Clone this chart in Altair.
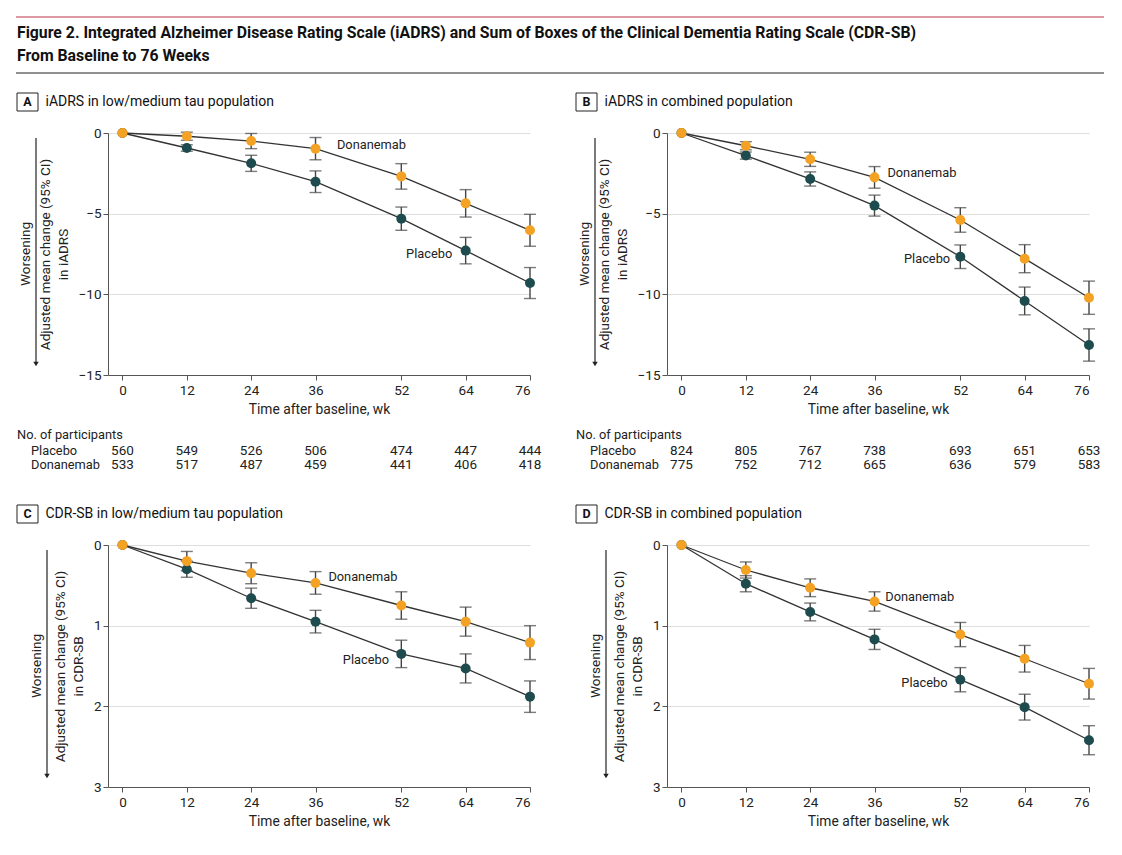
import altair as alt
import pandas as pd

FONT = "Roboto"
ORANGE = "#F4A223"
TEAL = "#1E4B4D"
LINE = "#333333"

weeks = [0, 12, 24, 36, 52, 64, 76]

# Panel A: iADRS low/medium tau
a_dona = [0, -0.20, -0.50, -0.97, -2.69, -4.36, -6.03]
a_dona_ci = [0, 0.25, 0.47, 0.69, 0.79, 0.85, 0.99]
a_plac = [0, -0.93, -1.88, -3.02, -5.31, -7.29, -9.30]
a_plac_ci = [0, 0.20, 0.50, 0.67, 0.72, 0.82, 0.96]

# Panel B: iADRS combined
b_dona = [0, -0.79, -1.63, -2.75, -5.39, -7.79, -10.21]
b_dona_ci = [0, 0.25, 0.44, 0.67, 0.76, 0.87, 1.03]
b_plac = [0, -1.40, -2.85, -4.50, -7.67, -10.41, -13.14]
b_plac_ci = [0, 0.22, 0.44, 0.65, 0.73, 0.86, 1.00]

# Panel C: CDR-SB low/medium tau
c_dona = [0, 0.20, 0.35, 0.47, 0.75, 0.95, 1.21]
c_dona_ci = [0, 0.12, 0.13, 0.14, 0.17, 0.18, 0.21]
c_plac = [0, 0.30, 0.66, 0.95, 1.35, 1.53, 1.88]
c_plac_ci = [0, 0.10, 0.125, 0.14, 0.17, 0.18, 0.195]

# Panel D: CDR-SB combined
d_dona = [0, 0.31, 0.53, 0.70, 1.11, 1.41, 1.72]
d_dona_ci = [0, 0.10, 0.11, 0.12, 0.15, 0.165, 0.19]
d_plac = [0, 0.48, 0.83, 1.17, 1.67, 2.01, 2.42]
d_plac_ci = [0, 0.10, 0.11, 0.125, 0.15, 0.16, 0.18]

# Participants
a_n_plac = [560, 549, 526, 506, 474, 447, 444]
a_n_dona = [533, 517, 487, 459, 441, 406, 418]
b_n_plac = [824, 805, 767, 738, 693, 651, 653]
b_n_dona = [775, 752, 712, 665, 636, 579, 583]

# Series label anchors (week, value)
a_labels = [(40.0, -0.74), (61.5, -7.53)]
b_labels = [(38.4, -2.5), (50.1, -7.83)]
c_labels = [(38.4, 0.395), (49.7, 1.42)]
d_labels = [(38.0, 0.64), (49.6, 1.71)]

title_lines = [
    "Figure 2. Integrated Alzheimer Disease Rating Scale (iADRS) and Sum of Boxes of the Clinical Dementia Rating Scale (CDR-SB)",
    "From Baseline to 76 Weeks",
]

W = 422
H = 242
one = pd.DataFrame({"k": [0]})


def txt(s, x, y, size=13, align="left", weight="normal", angle=0, color="#222"):
    return alt.Chart(one).mark_text(align=align, baseline="middle", fontSize=size,
                                    fontWeight=weight, color=color, font=FONT,
                                    angle=angle).encode(
        x=alt.value(x), y=alt.value(y), text=alt.value(s))


def panel(letter, label, dmean, dci, pmean, pci, ydom, yvals, reverse, ytitle,
          labels, counts=None, header=False, arrow_x=-72, worse_x=-82):
    rows = []
    for w, m, c in zip(weeks, dmean, dci):
        rows.append(dict(week=w, group="Donanemab", mean=m, lo=m - c, hi=m + c))
    for w, m, c in zip(weeks, pmean, pci):
        rows.append(dict(week=w, group="Placebo", mean=m, lo=m - c, hi=m + c))
    df = pd.DataFrame(rows)
    ci = df[df.week > 0]

    xs = alt.Scale(domain=[-2.7, 76], nice=False, zero=False, padding=0)
    ys = alt.Scale(domain=ydom, nice=False, zero=False, reverse=reverse, padding=0)
    x = alt.X("week:Q", scale=xs,
              axis=alt.Axis(values=weeks, title="Time after baseline, wk", grid=False,
                            labelFontSize=13.5, titleFontSize=13.8, titleFontWeight="normal",
                            tickSize=5, labelPadding=3, titlePadding=6, format="d",
                            domainColor="#555", tickColor="#555",
                            labelColor="#222", titleColor="#222"))
    y = alt.Y("mean:Q", scale=ys,
              axis=alt.Axis(values=yvals, title=ytitle, grid=True, gridColor="#dedede",
                            labelFontSize=13.5, titleFontSize=13.5, titleFontWeight="normal",
                            tickSize=5, labelPadding=2, titlePadding=8, format="d",
                            titleLineHeight=18,
                            domainColor="#555", tickColor="#555",
                            labelColor="#222", titleColor="#222"))
    xw = alt.X("week:Q", scale=xs)

    lines = alt.Chart(df).mark_line(color=LINE, strokeWidth=1.3).encode(
        x=x, y=y, detail="group:N")
    bars = alt.Chart(ci).mark_rule(color="#444", strokeWidth=1.4).encode(
        x=xw, y=alt.Y("lo:Q", scale=ys), y2="hi:Q")
    cap_lo = alt.Chart(ci).mark_tick(color="#444", orient="horizontal", size=12,
                                     thickness=1.4).encode(x=xw, y=alt.Y("lo:Q", scale=ys))
    cap_hi = alt.Chart(ci).mark_tick(color="#444", orient="horizontal", size=12,
                                     thickness=1.4).encode(x=xw, y=alt.Y("hi:Q", scale=ys))
    pts = alt.Chart(df).mark_circle(size=100, opacity=1).encode(
        x=xw, y=alt.Y("mean:Q", scale=ys),
        color=alt.Color("group:N",
                        scale=alt.Scale(domain=["Placebo", "Donanemab"], range=[TEAL, ORANGE]),
                        legend=None),
        order=alt.Order("group:N", sort="descending"))

    lab_d = pd.DataFrame({"week": [labels[0][0]], "mean": [labels[0][1]], "t": ["Donanemab"]})
    lab_p = pd.DataFrame({"week": [labels[1][0]], "mean": [labels[1][1]], "t": ["Placebo"]})
    tdona = alt.Chart(lab_d).mark_text(align="left", baseline="middle", fontSize=12.8,
                                       color="#222", font=FONT).encode(
        x=xw, y=alt.Y("mean:Q", scale=ys), text="t:N")
    tplac = alt.Chart(lab_p).mark_text(align="right", baseline="middle", fontSize=12.8,
                                       color="#222", font=FONT).encode(
        x=xw, y=alt.Y("mean:Q", scale=ys), text="t:N")

    box = alt.Chart(one).mark_rect(fill="white", fillOpacity=0, stroke="#222",
                                   strokeWidth=1).encode(
        x=alt.value(-91), x2=alt.value(-70), y=alt.value(-40), y2=alt.value(-22))
    letter_t = txt(letter, -80.5, -31, size=12.5, align="center", weight="bold", color="#111")
    label_t = txt(label, -62.5, -31, size=14, color="#111")

    arrow = alt.Chart(one).mark_rule(color="#222", strokeWidth=1.2).encode(
        x=alt.value(arrow_x), y=alt.value(5), y2=alt.value(230))
    head = alt.Chart(one).mark_point(shape="triangle-down", filled=True, size=30,
                                     color="#222", opacity=1).encode(
        x=alt.value(arrow_x), y=alt.value(231))
    worse = txt("Worsening", worse_x, H / 2, size=13.5, align="center", angle=270)

    layers = [lines, bars, cap_lo, cap_hi, pts, tdona, tplac, box, letter_t, label_t,
              arrow, head, worse]

    if counts is not None:
        nplac, ndona = counts
        cdf = pd.DataFrame({"week": weeks, "np": [str(v) for v in nplac],
                            "nd": [str(v) for v in ndona]})
        layers.append(alt.Chart(cdf).mark_text(fontSize=13.5, color="#222", font=FONT,
                                               baseline="middle").encode(
            x=xw, y=alt.value(318), text="np:N"))
        layers.append(alt.Chart(cdf).mark_text(fontSize=13.5, color="#222", font=FONT,
                                               baseline="middle").encode(
            x=xw, y=alt.value(332), text="nd:N"))
        layers.append(txt("No. of participants", -91, 302, size=12.8))
        layers.append(txt("Placebo", -77, 318, size=12.8))
        layers.append(txt("Donanemab", -77, 332, size=12.8))

    if header:
        layers.append(alt.Chart(one).mark_rule(color="#B8344A", strokeWidth=1).encode(
            x=alt.value(-92), x2=alt.value(996), y=alt.value(-116)))
        layers.append(alt.Chart(one).mark_rule(color="#222", strokeWidth=1).encode(
            x=alt.value(-92), x2=alt.value(996), y=alt.value(-60)))
        layers.append(txt(title_lines[0], -91, -100, size=15.8, weight="bold", color="#111"))
        layers.append(txt(title_lines[1], -91, -77, size=15.8, weight="bold", color="#111"))

    return alt.layer(*layers).properties(width=W, height=H)


iadrs_title = ["Adjusted mean change (95% CI)", "in iADRS"]
cdr_title = ["Adjusted mean change (95% CI)", "in CDR-SB"]

pA = panel("A", "iADRS in low/medium tau population", a_dona, a_dona_ci, a_plac, a_plac_ci,
           [-15, 0], [0, -5, -10, -15], False, iadrs_title, a_labels,
           counts=(a_n_plac, a_n_dona), header=True, arrow_x=-72, worse_x=-82)
pB = panel("B", "iADRS in combined population", b_dona, b_dona_ci, b_plac, b_plac_ci,
           [-15, 0], [0, -5, -10, -15], False, iadrs_title, b_labels,
           counts=(b_n_plac, b_n_dona), arrow_x=-72, worse_x=-82)
pC = panel("C", "CDR-SB in low/medium tau population", c_dona, c_dona_ci, c_plac, c_plac_ci,
           [0, 3], [0, 1, 2, 3], True, cdr_title, c_labels, arrow_x=-61, worse_x=-71)
pD = panel("D", "CDR-SB in combined population", d_dona, d_dona_ci, d_plac, d_plac_ci,
           [0, 3], [0, 1, 2, 3], True, cdr_title, d_labels, arrow_x=-61, worse_x=-71)

chart = alt.concat(pA, pB, pC, pD, columns=2,
                   spacing={"row": 170, "column": 137}, bounds="flush").properties(
    padding={"left": 15, "top": 16, "right": 5, "bottom": 5}
).configure(font=FONT).configure_view(stroke=None).configure_scale(continuousPadding=0)

chart.save("out.html", embed_options={"renderer": "svg", "actions": False})
